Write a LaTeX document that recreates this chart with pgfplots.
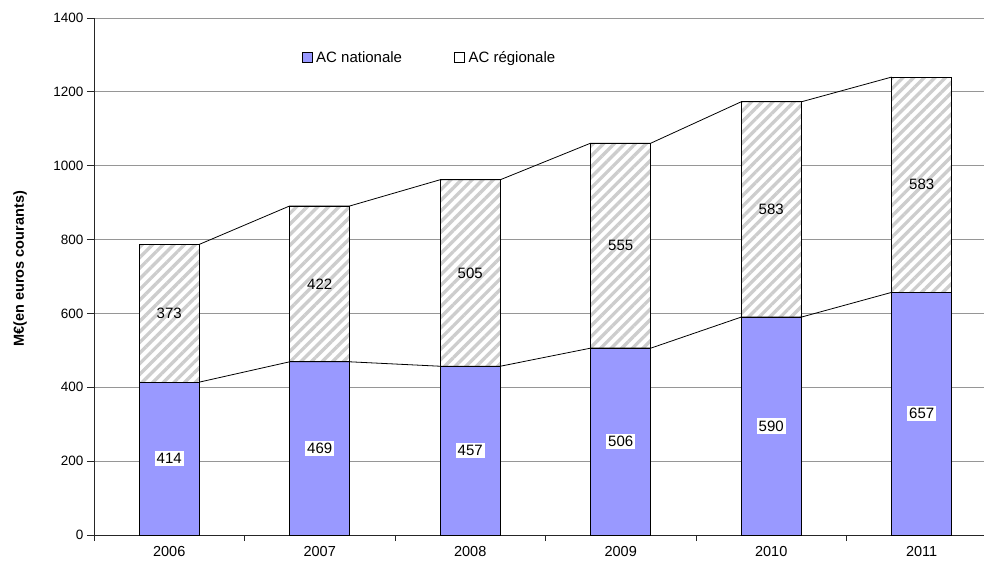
\documentclass[border=0pt]{standalone}
\usepackage{fontspec}
\setmainfont{Liberation Sans}
\usepackage{pgfplots}
\pgfplotsset{compat=1.18}
\usepackage{pgfplotstable}
\usetikzlibrary{patterns.meta}

\definecolor{acnat}{RGB}{153,153,255}
\definecolor{hatchgray}{RGB}{205,205,205}
\definecolor{gridgray}{RGB}{150,150,150}

% AC nationale / AC regionale, M euros
\pgfplotstableread{
x nat reg
0 414 373
1 469 422
2 457 505
3 506 555
4 590 583
5 657 583
}\acdata

\begin{document}
\begin{tikzpicture}[x=1pt,y=1pt]
\useasboundingbox (0,0) rectangle (984,567);
\begin{axis}[
    at={(94pt,32pt)}, anchor=south west,
    scale only axis, width=890pt, height=517pt,
    xmin=-0.5, xmax=5.414, ymin=0, ymax=1400,
    axis x line*=bottom, axis y line*=left,
    axis line style={black!85, line width=0.9pt},
    xtick={0,1,2,3,4,5},
    xticklabels={2006,2007,2008,2009,2010,2011},
    minor xtick={-0.5,0.5,1.5,2.5,3.5,4.5},
    ytick={0,200,400,600,800,1000,1200,1400},
    tick align=outside,
    major x tick style={draw=none},
    minor x tick style={black!85, line width=0.8pt},
    ytick style={black!85, line width=0.8pt},
    minor tick length=6pt, major tick length=7pt,
    ymajorgrids, grid style={gridgray, line width=0.8pt},
    /pgf/number format/assume math mode=true,
    /pgf/number format/1000 sep={},
    yticklabel style={font=\fontsize{13.5}{15}\selectfont},
    xticklabel style={font=\fontsize{14.5}{16}\selectfont, yshift=-1pt},
    ylabel={M€(en euros courants)},
    every axis y label/.style={at={(axis description cs:-0.083,0.515)}, rotate=90, anchor=center, font=\bfseries\fontsize{14.5}{17}\selectfont},
    legend style={at={(axis description cs:0.377,0.923)}, anchor=center, draw=none, fill=none,
        font=\fontsize{15}{17}\selectfont, legend columns=2,
        /tikz/every even column/.append style={column sep=50pt}},
    legend cell align=left,
    legend image code/.code={\path[draw=none, fill=none] (0pt,0pt) -- (12pt,0pt);
        \draw[#1, line width=0.8pt] (0pt,-5pt) rectangle (10pt,5pt);},
]
\addlegendimage{fill=acnat, draw=black}
\addlegendentry{AC nationale}
\addlegendimage{fill=white, draw=black}
\addlegendentry{AC régionale}

% total bars, hatched (regional part shows above national)
\addplot[ybar, bar width=0.4, bar shift=0pt, draw=black, line width=0.9pt,
    preaction={fill=white},
    pattern={Lines[angle=45, distance=7.5pt, line width=3.3pt]}, pattern color=hatchgray,
    forget plot]
    table[x=x, y expr=\thisrow{nat}+\thisrow{reg}] {\acdata};
\addplot[ybar, bar width=0.4, bar shift=0pt, draw=black, line width=0.9pt,
    fill=acnat, forget plot]
    table[x=x, y=nat] {\acdata};

% series lines
\addplot[black, line width=0.8pt, mark=none, forget plot] coordinates {
(0.2,414) (0.8,469) (1.2,469) (1.8,457) (2.2,457) (2.8,506)
(3.2,506) (3.8,590) (4.2,590) (4.8,657)
};
\addplot[black, line width=0.8pt, mark=none, forget plot] coordinates {
(0.2,787) (0.8,891) (1.2,891) (1.8,962) (2.2,962) (2.8,1061)
(3.2,1061) (3.8,1173) (4.2,1173) (4.8,1240)
};

% value labels
\addplot[draw=none, mark=none, forget plot, nodes near coords, point meta=explicit,
    every node near coord/.append style={anchor=center, fill=white, inner xsep=2pt, inner ysep=2.5pt,
        font=\fontsize{15}{17}\selectfont}]
    table[x=x, y expr=\thisrow{nat}/2, meta=nat] {\acdata};
\addplot[draw=none, mark=none, forget plot, nodes near coords, point meta=explicit,
    every node near coord/.append style={anchor=center, font=\fontsize{15}{17}\selectfont}]
    table[x=x, y expr=\thisrow{nat}+\thisrow{reg}/2, meta=reg] {\acdata};
\end{axis}
\end{tikzpicture}
\end{document}
